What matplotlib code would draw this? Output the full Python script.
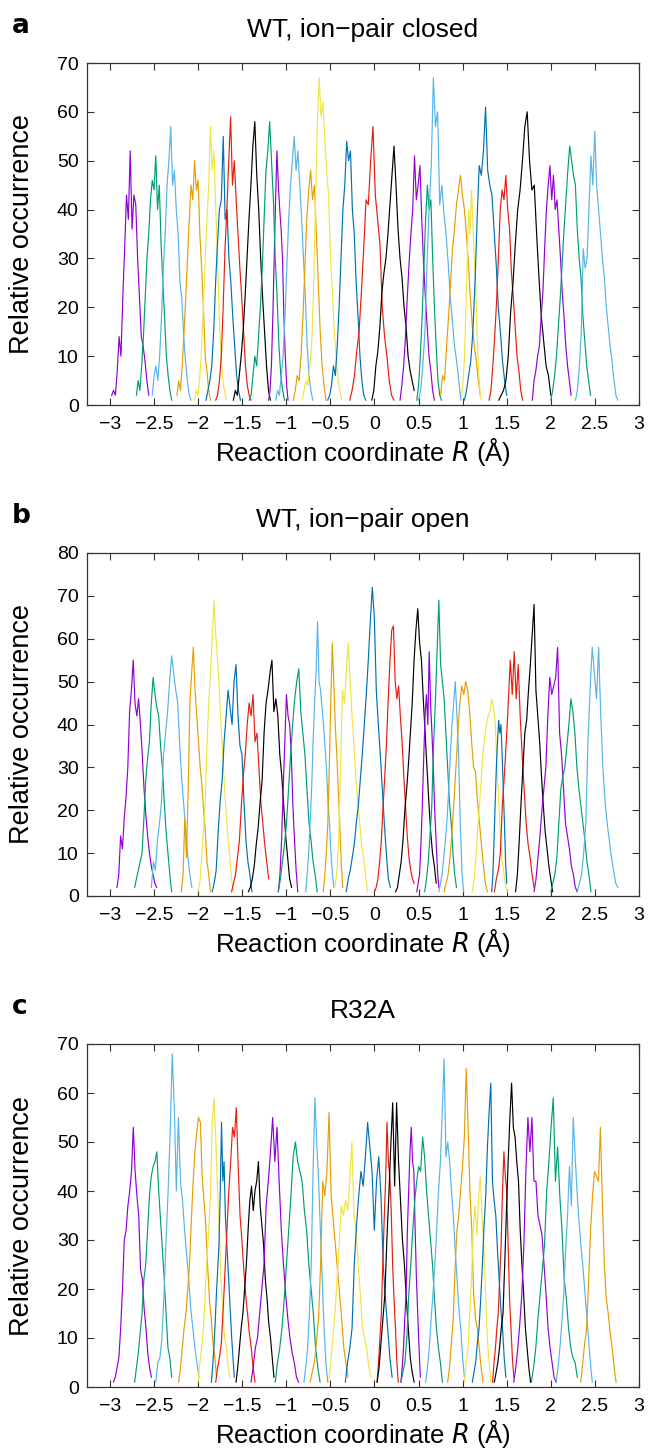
import numpy as np
import matplotlib.pyplot as plt
from matplotlib.ticker import FuncFormatter, MultipleLocator

plt.rcParams['font.family'] = ['Liberation Sans', 'DejaVu Sans']

# gnuplot default line colours, cycled over the umbrella windows
COLORS = ['#9400D3', '#009E73', '#56B4E9', '#E69F00',
          '#F0E442', '#0072B2', '#E51E10', '#000000']

# ---- panel a: WT, ion-pair closed (window range in R, counts per bin) ----
a_ranges = [(-2.98, -2.56), (-2.70, -2.30), (-2.52, -2.08), (-2.24, -1.86),
            (-2.04, -1.68), (-1.91, -1.52), (-1.80, -1.40), (-1.60, -1.18),
            (-1.20, -0.98), (-1.42, -1.02), (-1.12, -0.70), (-0.92, -0.55),
            (-0.82, -0.37), (-0.53, -0.10), (-0.28, 0.22), (-0.03, 0.45),
            (0.29, 0.68), (0.48, 0.76), (0.50, 0.98), (0.75, 1.20),
            (0.99, 1.21), (1.02, 1.50), (1.30, 1.68), (1.41, 2.00),
            (1.79, 2.23), (2.00, 2.45), (2.28, 2.76)]
a_counts = [
    [2, 3, 2, 7, 14, 10, 22, 32, 43, 38, 52, 36, 43, 41, 30, 22, 14, 12, 9, 5, 2],
    [2, 5, 3, 8, 14, 22, 30, 35, 42, 46, 44, 51, 40, 45, 33, 25, 18, 10, 6, 3, 1],
    [2, 6, 8, 5, 10, 18, 28, 35, 45, 50, 57, 45, 48, 40, 35, 25, 22, 14, 9, 5, 2, 1],
    [2, 5, 3, 8, 15, 22, 30, 38, 45, 42, 50, 44, 46, 35, 28, 20, 10, 7, 3, 1],
    [1, 3, 2, 6, 12, 20, 30, 38, 45, 57, 48, 52, 40, 30, 18, 10, 5, 3, 1],
    [1, 3, 5, 8, 15, 25, 33, 40, 42, 55, 38, 40, 30, 25, 18, 12, 6, 3, 1],
    [1, 2, 5, 10, 20, 32, 40, 50, 59, 45, 50, 42, 35, 28, 22, 15, 8, 4, 2, 1],
    [1, 3, 2, 6, 10, 15, 22, 30, 38, 45, 53, 58, 47, 40, 30, 22, 15, 8, 3, 1],
    [1, 3, 8, 18, 30, 42, 52, 45, 40, 36, 30, 18, 10, 4, 1],
    [1, 2, 6, 10, 8, 14, 20, 28, 38, 48, 52, 58, 50, 42, 30, 22, 12, 6, 3, 1],
    [1, 3, 2, 6, 10, 18, 28, 38, 45, 50, 55, 48, 52, 45, 38, 30, 22, 12, 6, 3, 1],
    [1, 3, 6, 5, 10, 18, 28, 38, 44, 48, 42, 45, 35, 25, 15, 8, 4, 1],
    [1, 3, 5, 4, 8, 12, 23, 40, 57, 67, 59, 62, 54, 48, 43, 30, 23, 15, 10, 5, 3, 1],
    [1, 2, 4, 8, 6, 12, 20, 30, 40, 45, 54, 50, 52, 40, 35, 25, 18, 10, 5, 2, 1],
    [1, 3, 6, 11, 15, 23, 32, 42, 41, 50, 57, 43, 38, 33, 20, 14, 10, 5, 2, 1],
    [1, 3, 8, 11, 16, 23, 27, 30, 35, 41, 47, 53, 45, 36, 30, 26, 20, 16, 10, 7, 5, 3],
    [1, 4, 8, 14, 22, 29, 35, 40, 51, 42, 45, 49, 38, 29, 22, 16, 10, 7, 3, 1],
    [1, 4, 10, 18, 28, 38, 45, 40, 42, 30, 20, 12, 5, 2, 1],
    [1, 3, 8, 15, 29, 40, 49, 67, 57, 60, 41, 45, 39, 35, 29, 22, 17, 12, 9, 5, 1],
    [2, 6, 5, 12, 18, 25, 32, 36, 41, 44, 47, 43, 40, 35, 29, 22, 16, 12, 9, 5, 2],
    [2, 5, 10, 20, 30, 40, 35, 44, 38, 30, 25, 15, 8, 3, 1],
    [1, 3, 6, 9, 15, 25, 38, 49, 47, 52, 61, 48, 45, 43, 36, 29, 20, 15, 9, 5, 2],
    [1, 3, 8, 14, 21, 30, 40, 44, 42, 47, 40, 36, 27, 22, 16, 10, 7, 3, 1],
    [1, 2, 3, 5, 10, 19, 25, 33, 40, 44, 50, 57, 60, 50, 44, 45, 35, 26, 18, 13, 8, 6, 2],
    [1, 5, 7, 10, 12, 18, 23, 32, 40, 45, 49, 42, 47, 40, 42, 36, 30, 23, 18, 12, 8, 5, 2],
    [1, 3, 6, 10, 16, 22, 29, 36, 42, 48, 53, 50, 47, 45, 36, 30, 26, 18, 13, 8, 5, 2],
    [1, 3, 8, 15, 32, 28, 30, 40, 51, 45, 56, 45, 40, 35, 30, 26, 20, 16, 12, 9, 5, 2, 1],
]

# ---- panel b: WT, ion-pair open ----
b_ranges = [(-2.92, -2.47), (-2.72, -2.30), (-2.53, -2.07), (-2.19, -1.86),
            (-2.00, -1.60), (-1.84, -1.39), (-1.62, -1.20), (-1.43, -0.94),
            (-1.09, -0.87), (-1.09, -0.65), (-0.78, -0.46), (-0.58, -0.36),
            (-0.45, -0.08), (-0.32, 0.18), (0.00, 0.45), (0.24, 0.70),
            (0.48, 0.73), (0.57, 0.93), (0.73, 1.01), (0.79, 1.28),
            (1.11, 1.51), (1.33, 1.50), (1.36, 1.81), (1.60, 2.02),
            (1.81, 2.30), (2.00, 2.455), (2.30, 2.76)]
b_counts = [
    [2, 5, 14, 11, 18, 23, 30, 43, 48, 55, 45, 42, 46, 40, 33, 25, 19, 14, 10, 7, 5, 3, 2],
    [2, 4, 6, 8, 10, 18, 27, 32, 36, 45, 51, 47, 44, 42, 35, 30, 22, 15, 10, 5, 1],
    [2, 8, 6, 13, 17, 22, 33, 38, 43, 50, 56, 52, 48, 45, 35, 27, 21, 15, 9, 5, 2],
    [1, 5, 18, 9, 25, 45, 52, 58, 48, 42, 36, 30, 26, 20, 15, 8, 5, 1],
    [1, 3, 9, 15, 21, 35, 45, 52, 60, 69, 61, 55, 48, 40, 33, 25, 19, 13, 9, 4, 1],
    [1, 3, 6, 15, 22, 27, 36, 42, 48, 44, 40, 50, 54, 42, 35, 33, 22, 13, 8, 5, 1],
    [1, 3, 5, 9, 13, 21, 28, 33, 40, 45, 42, 47, 36, 38, 30, 22, 17, 12, 8, 4],
    [1, 2, 4, 7, 12, 16, 22, 27, 38, 45, 48, 52, 55, 43, 46, 42, 33, 28, 21, 14, 9, 4, 2],
    [1, 5, 13, 25, 36, 47, 42, 40, 33, 21, 13, 6, 1],
    [1, 4, 8, 12, 17, 25, 33, 40, 46, 50, 53, 43, 38, 33, 25, 17, 13, 8, 5, 1],
    [1, 5, 10, 17, 25, 36, 45, 52, 64, 50, 48, 44, 40, 35, 30, 22, 17, 10, 5, 2],
    [1, 5, 10, 17, 30, 45, 59, 50, 40, 33, 25, 17, 8, 2],
    [2, 5, 13, 30, 48, 45, 52, 59, 50, 42, 35, 27, 22, 17, 12, 9, 5, 1],
    [1, 4, 6, 9, 12, 17, 21, 27, 33, 40, 47, 55, 64, 72, 65, 48, 40, 33, 25, 17, 10, 4, 2],
    [1, 2, 4, 8, 13, 21, 28, 36, 46, 55, 62, 63, 50, 46, 49, 42, 36, 28, 21, 14, 9, 6, 4, 3],
    [1, 2, 5, 8, 13, 20, 25, 31, 38, 45, 55, 62, 67, 59, 55, 46, 38, 30, 22, 15, 10, 7, 3],
    [1, 3, 5, 12, 21, 32, 42, 47, 40, 57, 45, 38, 30, 20, 13, 6, 2],
    [1, 4, 8, 14, 21, 35, 45, 57, 69, 54, 50, 46, 38, 30, 22, 17, 10, 5, 2],
    [1, 3, 5, 9, 13, 18, 25, 33, 40, 45, 50, 42, 33, 17, 6, 1],
    [1, 3, 5, 9, 15, 22, 30, 38, 45, 49, 47, 50, 48, 43, 36, 30, 29, 22, 17, 12, 7, 3, 1],
    [1, 4, 9, 15, 21, 27, 33, 37, 40, 42, 43, 46, 44, 40, 30, 22, 13, 8, 5, 2, 1],
    [1, 5, 13, 22, 30, 36, 41, 38, 40, 33, 25, 17, 8, 3],
    [1, 4, 6, 10, 21, 28, 36, 45, 55, 47, 57, 46, 54, 42, 33, 25, 17, 12, 9, 5, 2],
    [1, 5, 13, 22, 30, 38, 41, 48, 54, 61, 68, 48, 42, 36, 28, 21, 15, 11, 7, 4, 1],
    [1, 4, 9, 14, 20, 25, 30, 42, 51, 47, 49, 51, 58, 38, 33, 25, 17, 14, 11, 7, 5, 2, 1],
    [1, 3, 5, 9, 17, 25, 28, 30, 35, 40, 46, 43, 38, 30, 25, 21, 17, 13, 8, 5, 1],
    [1, 3, 5, 10, 17, 36, 48, 58, 52, 46, 58, 42, 30, 22, 17, 13, 9, 6, 3, 2],
]

# ---- panel c: R32A ----
c_ranges = [(-2.96, -2.53), (-2.72, -2.30), (-2.48, -1.99), (-2.22, -1.79),
            (-2.00, -1.64), (-1.85, -1.59), (-1.80, -1.355), (-1.57, -1.14),
            (-1.40, -0.86), (-1.125, -0.617), (-0.80, -0.53), (-0.73, -0.30),
            (-0.52, -0.04), (-0.33, 0.20), (0.03, 0.27), (0.03, 0.45),
            (0.30, 0.52), (0.30, 0.77), (0.58, 1.02), (0.83, 1.23),
            (1.02, 1.32), (1.11, 1.49), (1.34, 1.58), (1.36, 1.77),
            (1.58, 2.06), (1.78, 2.30), (2.06, 2.47), (2.34, 2.74)]
c_counts = [
    [1, 2, 4, 6, 12, 20, 30, 32, 37, 40, 44, 53, 44, 39, 35, 24, 22, 16, 12, 7, 4, 2],
    [1, 4, 7, 11, 15, 22, 25, 32, 39, 43, 45, 46, 48, 40, 34, 28, 22, 15, 8, 6, 2],
    [1, 5, 6, 10, 19, 30, 40, 52, 68, 57, 40, 55, 42, 38, 32, 27, 22, 16, 12, 8, 5, 2],
    [1, 4, 8, 12, 15, 20, 25, 34, 42, 48, 52, 55, 54, 43, 38, 33, 25, 18, 14, 9, 6, 2],
    [1, 5, 8, 12, 19, 26, 32, 39, 54, 59, 51, 40, 32, 22, 15, 10, 8, 4, 2],
    [1, 4, 8, 13, 19, 24, 29, 40, 54, 42, 46, 35, 30, 25, 20, 15, 10, 6, 2],
    [1, 4, 6, 9, 16, 24, 32, 40, 46, 53, 51, 57, 45, 35, 30, 24, 19, 15, 11, 8, 4, 1],
    [1, 4, 8, 12, 15, 20, 25, 32, 38, 41, 36, 40, 42, 46, 37, 33, 29, 22, 18, 13, 10, 6, 2],
    [1, 4, 8, 10, 15, 20, 25, 37, 42, 48, 55, 46, 53, 42, 32, 25, 19, 14, 10, 7, 5, 2, 1],
    [1, 5, 8, 12, 18, 25, 32, 39, 47, 50, 46, 44, 42, 36, 32, 25, 20, 15, 8, 4, 1],
    [1, 4, 8, 15, 25, 44, 59, 50, 42, 32, 22, 12, 5, 1],
    [1, 3, 5, 9, 14, 25, 42, 39, 44, 56, 39, 34, 29, 24, 19, 14, 8, 5, 2],
    [1, 5, 10, 15, 22, 29, 37, 35, 38, 36, 42, 50, 35, 32, 25, 19, 12, 10, 8, 4, 2],
    [1, 5, 8, 12, 25, 33, 39, 44, 41, 47, 54, 49, 44, 32, 42, 47, 39, 25, 18, 12, 6, 2],
    [1, 5, 10, 15, 25, 34, 42, 54, 46, 43, 36, 25, 18, 12, 5, 1],
    [1, 4, 9, 14, 19, 30, 39, 49, 58, 41, 58, 46, 38, 30, 25, 18, 12, 6, 3, 1],
    [1, 4, 8, 14, 19, 32, 40, 48, 53, 46, 44, 32, 22, 15, 8, 2],
    [1, 3, 5, 10, 19, 25, 32, 38, 42, 45, 44, 51, 47, 40, 35, 30, 25, 18, 12, 8, 5, 1],
    [1, 4, 8, 14, 19, 25, 32, 40, 46, 56, 67, 47, 50, 46, 40, 35, 28, 22, 16, 12, 6, 2],
    [1, 4, 9, 14, 24, 32, 35, 40, 45, 51, 65, 53, 40, 32, 19, 14, 12, 8, 4, 1],
    [1, 5, 8, 15, 22, 32, 37, 31, 38, 43, 35, 29, 19, 10, 5, 1],
    [1, 3, 5, 9, 12, 18, 25, 33, 39, 49, 56, 62, 42, 38, 35, 28, 22, 16, 12, 6, 2],
    [1, 5, 8, 12, 15, 22, 29, 40, 48, 43, 40, 29, 18, 12, 6, 2],
    [1, 3, 5, 8, 12, 15, 25, 36, 46, 55, 62, 53, 51, 46, 42, 32, 25, 19, 12, 8, 4, 1],
    [1, 4, 8, 13, 19, 29, 44, 55, 48, 55, 42, 42, 35, 33, 31, 25, 19, 12, 8, 5, 2, 1],
    [1, 4, 8, 14, 19, 24, 29, 40, 46, 53, 59, 42, 49, 39, 32, 22, 18, 12, 8, 6, 5, 2],
    [1, 4, 8, 13, 19, 28, 35, 45, 37, 55, 47, 40, 34, 29, 25, 20, 15, 10, 5, 1],
    [1, 5, 9, 12, 22, 32, 39, 44, 43, 42, 53, 38, 25, 18, 15, 11, 8, 4, 1],
]

panels = [
    ('a', 'WT, ion\u2212pair closed', a_ranges, a_counts, 70),
    ('b', 'WT, ion\u2212pair open', b_ranges, b_counts, 80),
    ('c', 'R32A', c_ranges, c_counts, 70),
]

W, H = 649, 1448
fig = plt.figure(figsize=(W / 100, H / 100), dpi=100)

# axes boxes in pixels: (left, top, right, bottom)
boxes = [(87, 63, 639, 405), (87, 553, 639, 896), (87, 1044, 639, 1387)]

tick_fmt = FuncFormatter(lambda v, p: ('%g' % v).replace('-', '\u2212'))

for (letter, title, ranges, counts, ymax), (l, t, r, b) in zip(panels, boxes):
    ax = fig.add_axes([l / W, 1 - b / H, (r - l) / W, (b - t) / H])

    for i, ((lo, hi), ys) in enumerate(zip(ranges, counts)):
        xs = np.linspace(lo, hi, len(ys))
        ax.plot(xs, ys, color=COLORS[i % len(COLORS)], lw=0.85)

    ax.set_xlim(-3.26, 3)
    ax.set_ylim(0, ymax)
    ax.xaxis.set_major_locator(MultipleLocator(0.5))
    ax.yaxis.set_major_locator(MultipleLocator(10))
    ax.xaxis.set_major_formatter(tick_fmt)
    ax.tick_params(direction='in', top=True, right=True, length=5,
                   width=0.8, labelsize=14, color='#333333')
    ax.tick_params(axis='x', pad=8)
    ax.tick_params(axis='y', pad=6)
    for s in ax.spines.values():
        s.set_linewidth(0.9)
        s.set_color('#333333')

    ax.set_xlabel('Reaction coordinate $\\mathit{R}$ (\u00c5)', fontsize=18.5,
                  labelpad=2)
    ax.set_ylabel('Relative occurrence', fontsize=19.5)
    ax.yaxis.set_label_coords(-0.094, 0.5)
    ax.set_title(title, fontsize=19, pad=19)

    fig.text(12 / W, 1 - (t - 30) / H, letter, fontsize=19, fontweight='bold',
             family='DejaVu Sans', ha='left', va='baseline')

fig.savefig('out.png', dpi=100, facecolor='white')
